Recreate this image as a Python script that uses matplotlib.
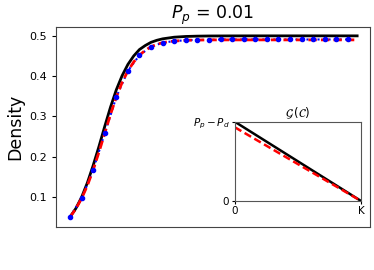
import matplotlib
matplotlib.use("Agg")
import matplotlib.pyplot as plt

# Simulation points (blue)
t_sim = list(range(0, 25))
dens_sim = [0.050, 0.096, 0.167, 0.258, 0.348, 0.413, 0.452, 0.473, 0.483, 0.487,
            0.489, 0.490, 0.490, 0.491, 0.491, 0.491, 0.491, 0.491, 0.491, 0.491,
            0.491, 0.491, 0.491, 0.491, 0.491]

# Fitted curve (red dashed)
t_fit = [0, 0.5, 1, 1.5, 2, 2.5, 3, 3.5, 4, 4.5, 5, 5.5, 6, 6.5, 7, 7.5, 8, 8.5, 9,
         10, 11, 12, 14, 16, 18, 20, 22, 24, 24.8]
dens_fit = [0.050, 0.070, 0.096, 0.128, 0.167, 0.211, 0.258, 0.305, 0.348, 0.384,
            0.413, 0.435, 0.452, 0.464, 0.473, 0.479, 0.483, 0.4855, 0.487,
            0.489, 0.4895, 0.490, 0.490, 0.490, 0.490, 0.490, 0.490, 0.490, 0.490]

# Theory curve (black)
t_th = [0, 0.5, 1, 1.5, 2, 2.5, 3, 3.5, 4, 4.5, 5, 5.5, 6, 6.5, 7, 7.5, 8, 9,
        10, 11, 12, 14, 16, 18, 20, 22, 24, 24.8]
dens_th = [0.050, 0.071, 0.099, 0.135, 0.178, 0.225, 0.275, 0.323, 0.366, 0.401,
           0.429, 0.450, 0.466, 0.476, 0.484, 0.489, 0.4926, 0.4967,
           0.4985, 0.4993, 0.4997, 0.4999, 0.500, 0.500, 0.500, 0.500, 0.500, 0.500]

# Inset: G(C) vs C
inset_x = [0, 1]
inset_theory = [1.0, 0.0]
inset_fit = [0.93, 0.0]

fig = plt.figure(figsize=(3.74, 2.70), dpi=100)
ax = fig.add_axes([0.150, 0.159, 0.839, 0.741])
ax.plot(t_th, dens_th, color="black", lw=2, zorder=2)
ax.plot(t_sim, dens_sim, color="blue", lw=1.5, ls=":", zorder=3)
ax.plot(t_fit, dens_fit, color="red", lw=2, ls="--", dashes=(3, 1.5), zorder=4)
ax.plot(t_sim, dens_sim, color="blue", ls="none", marker="o", ms=3, zorder=5)
ax.set_xlim(-1.2, 25.9)
ax.set_ylim(0.025, 0.522)
ax.set_xticks([])
ax.set_yticks([0.1, 0.2, 0.3, 0.4, 0.5])
ax.tick_params(axis="y", labelsize=8, length=3, width=0.8)
ax.set_ylabel("Density", fontsize=12.5)
ax.set_title("$P_p$ = 0.01", fontsize=12.5, pad=4)
for s in ax.spines.values():
    s.set_color("#444444")

ins = fig.add_axes([0.628, 0.256, 0.337, 0.293])
ins.plot(inset_x, inset_theory, color="black", lw=1.8)
ins.plot(inset_x, inset_fit, color="red", lw=1.8, ls="--", dashes=(3, 1.5))
ins.set_xlim(0, 1)
ins.set_ylim(0, 1)
ins.set_xticks([0, 1])
ins.set_xticklabels(["0", "K"])
ins.set_yticks([0, 1])
ins.set_yticklabels(["0", "$P_p - P_d$"])
ins.tick_params(labelsize=7.5, length=2.5, width=0.8, pad=1.5)
ins.set_title(r"$\mathcal{G}\,(\mathcal{C})$", fontsize=8.5, pad=3)
for s in ins.spines.values():
    s.set_color("#555555")

fig.savefig("out.png", dpi=100)
